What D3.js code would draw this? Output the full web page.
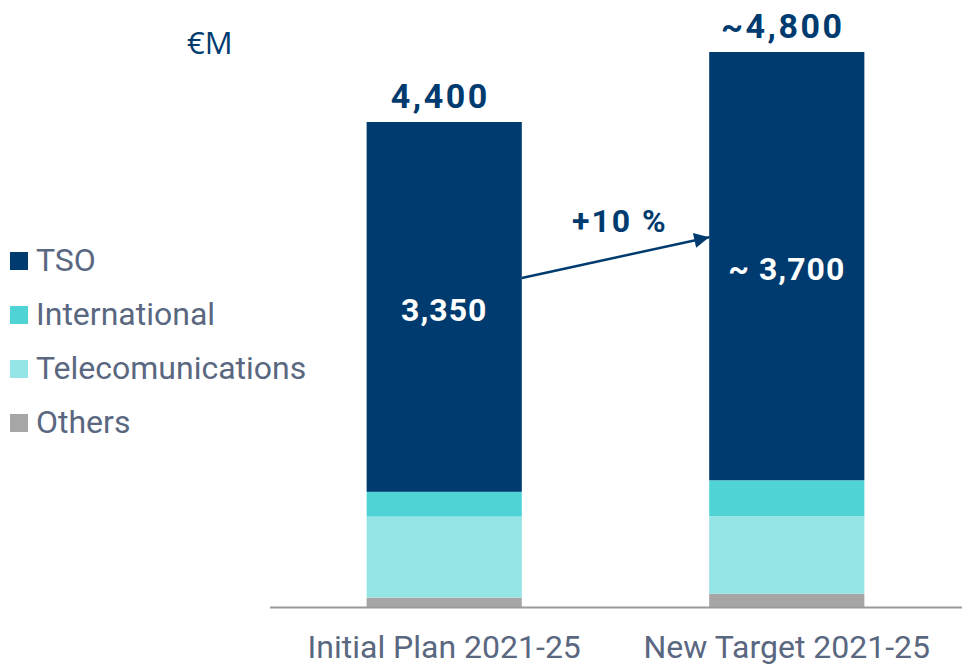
<!DOCTYPE html>
<html>
<head>
<meta charset="utf-8">
<script src="https://cdn.jsdelivr.net/npm/d3@7"></script>
<style>
body { margin: 0; background: #fff; }
svg { display: block; font-family: Roboto, "Noto Sans", sans-serif; }
</style>
</head>
<body>
<script>
// chart data
var categories = ["Initial Plan 2021-25", "New Target 2021-25"];
var seriesNames = ["Others", "Telecomunications", "International", "TSO"];
var others = [85, 120];
var telecom = [735, 705];
var international = [225, 325];
var tso = [3355, 3885];
var totalLabels = ["4,400", "~4,800"];
var tsoLabels = ["3,350", "~ 3,700"];
var growthLabel = "+10 %";
var arrowLevels = [2985, 3355];
var colors = { "TSO": "#003b6f", "International": "#4fd3d4", "Telecomunications": "#96e5e6", "Others": "#a6a6a6" };
var legendOrder = ["TSO", "International", "Telecomunications", "Others"];

var width = 962, height = 667;
var svg = d3.select("body").append("svg")
  .attr("width", width)
  .attr("height", height);

var rows = categories.map(function(c, i){
  return { cat: c, Others: others[i], Telecomunications: telecom[i], International: international[i], TSO: tso[i] };
});
var stacked = d3.stack().keys(seriesNames)(rows);

var x = d3.scaleBand().domain(categories).range([281, 950]).paddingInner(0.547).paddingOuter(0.25);
var y = d3.scaleLinear().domain([0, 4400]).range([607, 122]);

// bars
svg.append("g").selectAll("g")
  .data(stacked)
  .join("g")
  .attr("fill", function(d){ return colors[d.key]; })
  .selectAll("rect")
  .data(function(d){ return d; })
  .join("rect")
  .attr("x", function(d){ return x(d.data.cat); })
  .attr("y", function(d){ return y(d[1]); })
  .attr("width", x.bandwidth())
  .attr("height", function(d){ return y(d[0]) - y(d[1]); });

// baseline
svg.append("line")
  .attr("x1", 270).attr("x2", width)
  .attr("y1", y(0) + 0.5).attr("y2", y(0) + 0.5)
  .attr("stroke", "#9a9a9a")
  .attr("stroke-width", 2);

// category labels
svg.append("g").selectAll("text")
  .data(categories)
  .join("text")
  .attr("x", function(d){ return x(d) + x.bandwidth() / 2; })
  .attr("y", 658)
  .attr("text-anchor", "middle")
  .attr("font-size", 32)
  .attr("fill", "#5a6780")
  .text(function(d){ return d; });

// totals
var topLayer = stacked[stacked.length - 1];
svg.append("g").selectAll("text")
  .data(topLayer)
  .join("text")
  .attr("x", function(d){ return x(d.data.cat) + x.bandwidth() / 2 - 4; })
  .attr("y", function(d){ return y(d[1]) - 14; })
  .attr("text-anchor", "middle")
  .attr("font-size", 34)
  .attr("font-weight", "bold")
  .attr("letter-spacing", 2.5)
  .attr("fill", "#003b6f")
  .text(function(d, i){ return totalLabels[i]; });

// TSO labels inside
svg.append("g").selectAll("text")
  .data(topLayer)
  .join("text")
  .attr("x", function(d){ return x(d.data.cat) + x.bandwidth() / 2; })
  .attr("y", function(d){ return (y(d[0]) + y(d[1])) / 2 + 14; })
  .attr("text-anchor", "middle")
  .attr("font-size", 32)
  .attr("font-weight", "bold")
  .attr("letter-spacing", 1)
  .attr("fill", "#ffffff")
  .text(function(d, i){ return tsoLabels[i]; });

// growth arrow
var defs = svg.append("defs");
defs.append("marker")
  .attr("id", "arrowhead")
  .attr("viewBox", "0 0 10 10")
  .attr("refX", 10).attr("refY", 5)
  .attr("markerWidth", 7).attr("markerHeight", 6)
  .attr("markerUnits", "strokeWidth")
  .attr("orient", "auto")
  .append("path")
  .attr("d", "M0,0 L10,5 L0,10 z")
  .attr("fill", "#003b6f");

var ax1 = x(categories[0]) + x.bandwidth();
var ax2 = x(categories[1]);
svg.append("line")
  .attr("x1", ax1).attr("y1", y(arrowLevels[0]))
  .attr("x2", ax2).attr("y2", y(arrowLevels[1]))
  .attr("stroke", "#003b6f")
  .attr("stroke-width", 2.5)
  .attr("marker-end", "url(#arrowhead)");

svg.append("text")
  .attr("x", 572)
  .attr("y", 232)
  .attr("font-size", 32)
  .attr("font-weight", "bold")
  .attr("letter-spacing", 2)
  .attr("fill", "#003b6f")
  .text(growthLabel);

// unit
svg.append("text")
  .attr("x", 187).attr("y", 54)
  .attr("font-family", "'Open Sans', sans-serif")
  .attr("font-size", 31)
  .attr("fill", "#003b6f")
  .text("€M");

// legend
var legend = svg.append("g").selectAll("g")
  .data(legendOrder)
  .join("g")
  .attr("transform", function(d, i){ return "translate(10," + (252 + i * 54) + ")"; });
legend.append("rect")
  .attr("width", 18).attr("height", 18)
  .attr("fill", function(d){ return colors[d]; });
legend.append("text")
  .attr("x", 26).attr("y", 19)
  .attr("font-size", 32)
  .attr("fill", "#5a6780")
  .text(function(d){ return d; });
</script>
</body>
</html>
